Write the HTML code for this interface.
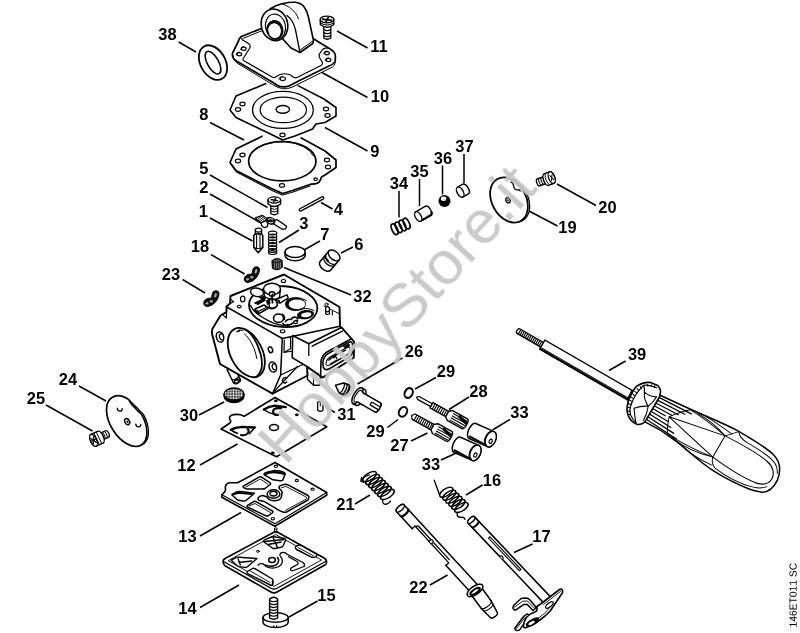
<!DOCTYPE html>
<html><head><meta charset="utf-8"><title>Carburetor parts diagram</title>
<style>
html,body{margin:0;padding:0;background:#fff;}
body{width:800px;height:633px;overflow:hidden;font-family:"Liberation Sans",sans-serif;}
svg{display:block;}
.o{fill:#fff;stroke:#000;stroke-width:1.5;stroke-linejoin:round;stroke-linecap:round;}
.t{fill:none;stroke:#000;stroke-width:1;stroke-linejoin:round;stroke-linecap:round;}
.n{fill:none;stroke:#000;stroke-width:1.5;stroke-linejoin:round;stroke-linecap:round;}
.k{fill:#000;stroke:none;}
.l{stroke:#000;stroke-width:1.5;fill:none;stroke-linecap:butt;}
.lb{font-family:"Liberation Sans",sans-serif;font-weight:bold;font-size:16px;fill:#000;}
</style></head><body>
<svg width="800" height="633" viewBox="0 0 800 633">
<rect width="800" height="633" fill="#fff"/>
<!-- 38 O-ring -->
<g transform="translate(213,62.6) rotate(-29)">
<ellipse class="o" cx="0" cy="0" rx="12.5" ry="18.5" style="stroke-width:1.8"/>
<ellipse class="o" cx="0" cy="0" rx="5.6" ry="12.6" style="stroke-width:1.6"/>
</g>

<!-- 8 gasket -->
<path class="o" d="M236,149 L262.3,136.2 L300.8,137.8 L325,151 L336,160 L336,167.5 L325,175 L321.5,177 Q320,183.5 315,183.8 Q311,184 309,184.8 L292.5,190.5 L282.5,193.5 L272.5,189 L236,170.5 L230,162.5 Z" style="stroke-width:1.7"/>
<path class="t" d="M231,164.5 L236.5,172 L272.5,190.8 L282.5,195 L293,192 L310,186" style="stroke-width:1.1"/>
<ellipse class="o" cx="282.3" cy="161.2" rx="33.7" ry="19.7" style="stroke-width:1.7"/>
<path class="t" d="M252.5,152.5 A32.6,18.8 0 0 1 313.5,156" style="stroke-width:1"/>
<g class="o" style="stroke-width:1.2">
<ellipse cx="242.5" cy="155" rx="2.6" ry="1.8"/><ellipse cx="238" cy="161" rx="2.6" ry="1.8"/>
<ellipse cx="327" cy="160" rx="2.6" ry="1.8"/><ellipse cx="328" cy="167" rx="2.6" ry="1.8"/>
<ellipse cx="282" cy="185.4" rx="2.6" ry="1.8"/><ellipse cx="315.6" cy="179.2" rx="1.7" ry="1.3"/>
</g>
<path d="M262.6,140 L300.5,140 L300.5,132 L262.6,132 Z" fill="#fff"/>

<!-- 9 metering diaphragm -->
<path class="o" d="M236,96 L266,83.6 L298,85.6 L324,99 L336,107.5 L336,116 L325,122.5 L316,124 L312.5,129 L295,136 L282.5,140 L272.5,135 L236,117.5 L230,110 Z" style="stroke-width:1.6"/>
<path d="M266.3,87.5 L297.6,87.5 L297.6,80 L266.3,80 Z" fill="#fff"/>
<ellipse class="o" cx="282.9" cy="109.9" rx="30.4" ry="18.5" style="stroke-width:1.3"/>
<ellipse class="o" cx="283.3" cy="109.9" rx="23.2" ry="12.8" style="stroke-width:1.2"/>
<ellipse class="o" cx="282.8" cy="109.4" rx="6.7" ry="3.9" style="stroke-width:1.4"/>
<g class="o" style="stroke-width:1.2">
<ellipse cx="242.5" cy="104" rx="2.6" ry="1.8"/><ellipse cx="238" cy="109.5" rx="2.6" ry="1.8"/>
<ellipse cx="326" cy="109" rx="2.6" ry="1.8"/><ellipse cx="327.5" cy="115.5" rx="2.6" ry="1.8"/>
<ellipse cx="282.5" cy="135" rx="2.6" ry="1.8"/>
</g>

<!-- 10 cover with elbow -->
<path class="o" d="M240.8,36.8 L262,28.3 L281,21 L315,39.8 L328.5,48 Q335.5,51.5 335.4,56 L335.3,60.5 Q335,63.5 329,66 L300,80.3 L290,85.6 Q283.5,88.3 277.5,85.5 L273,82.5 L236,60.8 Q231.5,57.5 232.6,53 L238.5,41 Q239.3,38 240.8,36.8 Z" style="stroke-width:1.7"/>
<path class="t" d="M233,55.5 Q232.8,60 237,63 L272.5,84.5 Q283,91.5 292,87.2 L330,68.3 Q335.3,66 335.3,62" style="stroke-width:1"/>
<!-- raised inner -->
<path class="n" d="M242.3,39.8 L248.5,43.6 Q251,45.5 249.5,48.5 L243.5,58 Q242.3,59.6 244,60.8 L272.5,77.2 Q274.5,78 276,76.8 Q282,72 290,74.8 L293.5,77.3 Q295.5,78.3 297.5,77.3 L321,65.5 Q323,64.3 322.3,62.3 L319.5,57.5 Q318.5,55 320,53.2 L321.8,50.5 Q323,48.5 325.5,48.2 L328.5,48" style="stroke-width:1.2"/>
<path class="t" d="M242.3,39.8 L240.8,36.8 M243.2,38.3 L262.5,30.5" style="stroke-width:1"/>
<g class="o" style="stroke-width:1.2">
<ellipse cx="243.8" cy="48.8" rx="2.3" ry="1.6"/><ellipse cx="239.3" cy="54.2" rx="2.3" ry="1.6"/>
<ellipse cx="327" cy="53.3" rx="2.3" ry="1.6"/><ellipse cx="328.5" cy="60" rx="2.3" ry="1.6"/>
<ellipse cx="282.8" cy="78.8" rx="2.6" ry="1.8"/>
</g>
<g class="t" style="stroke-width:0.8">
<path d="M240.5,49.5 Q240.5,46.5 243.8,46.3 M236,55 Q236,52 239.3,51.8 M323.6,53.8 Q323.6,50.9 327,50.8 M325.1,60.6 Q325.1,57.6 328.5,57.5 M278.8,79.5 Q279,76.2 282.8,76.2"/>
</g>
<!-- elbow body -->
<path class="o" d="M270,9 C275,5.5 278,4.5 282,3.7 C287,2.6 291,2 295.5,2.3 C300,3 303,5 304.5,7.5 C307,11 307.8,14 308.3,16.5 L313.5,40.5 L312.8,43.5 L300,52.5 L291,48 L282.8,39 Z" style="stroke-width:1.6"/>
<path class="n" d="M300,52.5 L295.5,30 C294,23 291,18.5 287,15.5" style="stroke-width:1.3"/>
<path class="t" d="M282,3.9 C289,6 296,11 298.5,19 M313.5,40.5 L300.5,49.8" style="stroke-width:1"/>
<!-- flange -->
<g transform="translate(274.5,24.8) rotate(-12)">
<ellipse cx="0" cy="0" rx="13.2" ry="15.9" fill="#fff" stroke="#000" stroke-width="1.6"/>
<ellipse cx="0.6" cy="2" rx="10" ry="12.6" fill="#fff" stroke="#000" stroke-width="1.1"/>
<ellipse cx="-0.6" cy="5" rx="8" ry="9.4" fill="#111" stroke="#000" stroke-width="1"/>
<ellipse cx="-1.2" cy="5.8" rx="6.9" ry="8" fill="#fff" stroke="#000" stroke-width="1"/>
<path d="M-7.2,8 A6,7.2 0 0 1 3.5,0.2" fill="none" stroke="#000" stroke-width="1.1"/>
</g>

<!-- 11 screw -->
<g>
<path class="o" d="M323.8,26 L323.8,38 Q327.2,40.5 330.8,38 L330.8,26 Z" style="stroke-width:1.3"/>
<path class="t" d="M323.8,29.5 Q327.2,31.7 330.8,29.5 M323.8,32.5 Q327.2,34.7 330.8,32.5 M323.8,35.5 Q327.2,37.7 330.8,35.5" style="stroke-width:1.1"/>
<path class="o" d="M320.3,19.5 L320.3,24.5 Q327,30 333.8,24.5 L333.8,19.5 Z" style="stroke-width:1.4"/>
<ellipse class="o" cx="327" cy="19.5" rx="6.8" ry="3.4" style="stroke-width:1.4"/>
<path d="M322,19.2 L332,20.3 M328.6,16.8 L325.6,22.6" stroke="#000" stroke-width="1.8" fill="none"/><path d="M320.6,23 Q327,27 333.6,23" stroke="#000" stroke-width="1" fill="none"/>
</g>

<!-- 4 pin -->
<path d="M300.5,209.8 L322.5,198" stroke="#000" stroke-width="3.8" stroke-linecap="round" fill="none"/>
<path d="M300.5,209.8 L322.5,198" stroke="#fff" stroke-width="1.2" stroke-linecap="round" fill="none"/>

<!-- 5 screw -->
<g>
<path class="o" d="M270.8,205 L270.8,213.5 Q274.3,216 277.8,213.5 L277.8,205 Z" style="stroke-width:1.3"/>
<path class="t" d="M270.8,208.5 Q274.3,210.5 277.8,208.5 M270.8,211 Q274.3,213 277.8,211" style="stroke-width:1"/>
<path class="o" d="M268,200 L268,204 Q274.3,209 280.6,204 L280.6,200 Z" style="stroke-width:1.4"/>
<ellipse class="o" cx="274.3" cy="200" rx="6.3" ry="3.1" style="stroke-width:1.4"/>
<path d="M270.5,199.5 L278,200.8 M275.8,197.8 L273.3,202.5" stroke="#000" stroke-width="1.4" fill="none"/>
</g>

<!-- 2 inlet control lever -->
<g>
<!-- arm right -->
<path class="o" d="M273.5,220.3 L277,219.6 L286.6,226.2 L285.6,228.8 L282.3,229.3 L273,223.5 Z" style="stroke-width:1.3"/>
<!-- fork left -->
<path d="M255.3,217.8 L262.5,215.4 L268.2,219.3 L261,223.2 Z" fill="#fff" stroke="#000" stroke-width="1.2" stroke-linejoin="round"/>
<path d="M257,217.2 L262.8,221.6 M258.8,216.6 L264.6,220.8 M260.6,216 L266.4,219.8 M255.8,218.4 L261.4,222.6" stroke="#000" stroke-width="0.9" fill="none"/>
<!-- hook -->
<path class="o" d="M261,223 L266,220.5 L268,222.5 L267.5,226.3 Q265.5,228.3 263.3,227.2 Q261.3,226 261,223 Z" style="stroke-width:1.3"/>
<!-- pivot -->
<ellipse cx="270.6" cy="220.8" rx="4.6" ry="3.3" fill="#111" stroke="#000" stroke-width="1" transform="rotate(20 270.6 220.8)"/>
<path d="M268,219.6 Q270.5,217.8 273,219.4 M268.6,222.4 Q271,223.6 273.4,222" stroke="#fff" stroke-width="0.9" fill="none"/>
</g>

<!-- 1 inlet needle -->
<g>
<path class="o" d="M255.3,229.2 Q258.4,227.2 261.6,229.2 L261.6,234.2 L255.3,234.2 Z" style="stroke-width:1.3"/>
<path class="t" d="M255.3,231.3 Q258.4,233 261.6,231.3" style="stroke-width:1.1"/>
<path class="o" d="M253.8,235.6 L255.3,233.9 L261.6,233.9 L262.8,235.6 L262.8,247.6 L258.3,252.8 L253.8,247.6 Z" style="stroke-width:1.5"/>
<path class="t" d="M256.6,235.2 L256.6,247.8 M260,235.2 L260,247.8 M253.8,247.6 Q258.3,250 262.8,247.6" style="stroke-width:1.1"/>
</g>

<!-- 3 spring -->
<g class="n" style="stroke-width:1.2">
<rect x="268.3" y="231.5" width="8.6" height="22" rx="3" fill="#fff" stroke="none"/>
<ellipse cx="272.6" cy="233" rx="4.2" ry="1.9"/>
<ellipse cx="272.6" cy="235.9" rx="4.2" ry="1.9"/>
<ellipse cx="272.6" cy="238.8" rx="4.2" ry="1.9"/>
<ellipse cx="272.6" cy="241.7" rx="4.2" ry="1.9"/>
<ellipse cx="272.6" cy="244.6" rx="4.2" ry="1.9"/>
<ellipse cx="272.6" cy="247.5" rx="4.2" ry="1.9"/>
<ellipse cx="272.6" cy="250.4" rx="4.2" ry="1.9"/>
<ellipse cx="272.6" cy="252.6" rx="4.2" ry="1.9"/>
</g>

<!-- 7 welch plug -->
<path class="o" d="M285,252 L285,255 A10.1,5.7 0 0 0 305.2,255 L305.2,252 Z" style="stroke-width:1.5"/>
<ellipse class="o" cx="295.1" cy="252" rx="10.1" ry="5.6" style="stroke-width:1.5"/>

<!-- 32 small knurled plug -->
<g>
<path d="M272,261 Q277,257 282,260.5 L282.3,267 Q277,271.5 272.5,268 Z" fill="#222" stroke="#000" stroke-width="1.2"/>
<path d="M274.2,261.5 L274.6,268.5 M276.3,260.8 L276.7,269.3 M278.4,260.6 L278.8,269 M280.3,261 L280.6,268" stroke="#bbb" stroke-width="0.6" fill="none"/>
<ellipse cx="277" cy="260.6" rx="4.4" ry="1.8" fill="#555" stroke="#000" stroke-width="0.8"/>
</g>

<!-- 6 valve jet -->
<g transform="translate(334.1,255.4) rotate(-50)">
<path class="o" d="M-13.6,-6.8 L0,-6.8 L0,6.8 L-13.6,6.8 A4.2,6.8 0 0 1 -13.6,-6.8 Z" style="stroke-width:1.5"/>
<ellipse class="o" cx="0" cy="0" rx="4.2" ry="6.8" style="stroke-width:1.4"/>
<path class="n" d="M-4.6,-6.8 A4.2,6.8 0 0 0 -4.6,6.8 M-7,-6.8 A4.2,6.8 0 0 0 -7,6.8" style="stroke-width:1.2"/>
<path class="t" d="M-5.8,-6.6 A4.2,6.8 0 0 0 -8,-1" style="stroke-width:1.6"/>
</g>

<!-- 18 E-clip -->
<g>
<path d="M244.4,280.3 Q245.3,282.7 248.2,282.5 Q253.3,281.8 256.8,277.2 Q259.8,272.6 259.5,268.8 Q258.6,266.3 255.8,266.8 Q252.8,267.6 252.6,270.6 Q252.9,273.4 250.8,274.3 Q248.8,273.9 246.8,275 Q243.6,277 244.4,280.3 Z" fill="#111" stroke="#000" stroke-width="1" stroke-linejoin="round"/>
<ellipse cx="256" cy="271.3" rx="1.2" ry="2.3" transform="rotate(20 256 271.3)" fill="#aaa"/>
<ellipse cx="251.8" cy="277.2" rx="1.5" ry="1.2" fill="#aaa"/>
<ellipse cx="247.5" cy="279.3" rx="1.6" ry="1.1" transform="rotate(-20 247.5 279.3)" fill="#aaa"/>
</g>
<!-- 23 E-clip -->
<g transform="translate(-40.5,24)">
<path d="M244.4,280.3 Q245.3,282.7 248.2,282.5 Q253.3,281.8 256.8,277.2 Q259.8,272.6 259.5,268.8 Q258.6,266.3 255.8,266.8 Q252.8,267.6 252.6,270.6 Q252.9,273.4 250.8,274.3 Q248.8,273.9 246.8,275 Q243.6,277 244.4,280.3 Z" fill="#111" stroke="#000" stroke-width="1" stroke-linejoin="round"/>
<ellipse cx="256" cy="271.3" rx="1.2" ry="2.3" transform="rotate(20 256 271.3)" fill="#aaa"/>
<ellipse cx="251.8" cy="277.2" rx="1.5" ry="1.2" fill="#aaa"/>
<ellipse cx="247.5" cy="279.3" rx="1.6" ry="1.1" transform="rotate(-20 247.5 279.3)" fill="#aaa"/>
</g>

<!-- carburetor body -->
<g>
<!-- nipple bottom-left -->
<g transform="translate(230.5,368) rotate(64)">
<path class="o" d="M0,-3.8 L14.5,-3.8 A2.2,3.8 0 0 1 14.5,3.8 L0,3.8 Z" style="stroke-width:1.4"/>
<path class="t" d="M10.2,-3.8 A2,3.8 0 0 1 10.2,3.8" style="stroke-width:1.1"/>
<ellipse cx="14.6" cy="0" rx="1.7" ry="3" fill="#222" stroke="#000" stroke-width="1"/>
<ellipse cx="14.9" cy="0.6" rx="0.7" ry="1.4" fill="#fff"/>
</g>
<!-- mount foot under boss -->
<path class="o" d="M307,360 L307.5,379.5 L313.6,385.3 L319.5,385.3 L321,370 Z" style="stroke-width:1.5"/>
<path class="t" d="M313.6,385.3 L313.2,370"/>
<!-- whole silhouette -->
<path class="o" d="M284,274.5 L230.5,296 L230,303.5 L226.5,306.5 L226.5,312 L220.5,315.5 L212.3,329 L211.8,333 L220,364 L272.5,393.7 L297,381 L307.5,375.5 L307,366.5 L322.6,377.5 L353.6,357.6 L354.1,342.1 L351.4,338.8 L341.4,327.5 L340,326.5 L339.5,307 Z" style="stroke-width:1.9"/>
<!-- top face edges -->
<path class="n" d="M226.8,307 L282.3,338.5 L340,326.3" style="stroke-width:1.5"/>
<path class="n" d="M230.3,299 L233.6,301.6 L230.2,303.4" style="stroke-width:1.2"/>
<path class="n" d="M226.5,312 L222.6,314.6 L226.5,318 Z" style="stroke-width:1.2"/>
<!-- front vertical edge and bottom chamfer -->
<path class="n" d="M282.3,338.5 L280.6,375 L272.5,393.7" style="stroke-width:1.5"/>
<path class="t" d="M274.5,391 L297.5,366.5" style="stroke-width:1.1"/>
<path class="n" d="M280.6,375 L307,362.5" style="stroke-width:1.3"/>
<path d="M286.2,377.6 C283.5,377.2 281.6,379.8 282.8,382 C283.6,383.4 285.6,383.2 286.6,382" fill="none" stroke="#000" stroke-width="1.4" stroke-linecap="round"/>
<!-- right face step near front edge -->
<path class="n" d="M292.7,336.4 L292.7,351 M284,352.5 L292.7,351 M284.3,340 L284,352.5 L290.5,348.8 L290.5,337" style="stroke-width:1.2"/>
<!-- boss block -->
<path class="o" d="M292.7,335.5 L308.8,343.8 L341.4,327.5 L351.4,338.8 L354.1,342.1 L353.6,357.6 L322.6,377.5 L307,366.5 L292.2,357.6 Z" style="stroke-width:1.6"/>
<path class="n" d="M312.1,346.2 L342.5,331.2 M308.8,343.8 L308.8,355.4" style="stroke-width:1.3"/>
<path class="n" d="M320.6,376 L321,361 Q322.3,354.8 327,352 L351.4,338.8" style="stroke-width:1.6"/>
<!-- slot in boss front -->
<path d="M322.8,362.5 Q323.5,356.5 328.1,353.6 L348.5,342.3 Q352.3,340.8 352.5,344.5 L352.5,352 Q352.3,354.8 349.5,356.8 L329.5,368.8 Q324.5,371 323.3,367 Z" fill="#fff" stroke="#000" stroke-width="1.6" stroke-linejoin="round"/>
<path d="M326,364.5 Q326,359.5 330,357 L347.5,347.3 Q350,346.5 350,349 L350,350.8 Q349.8,353 347.5,354.5 L331.5,364.3 Q327.5,366.3 326.4,365 Z" fill="#fff" stroke="#000" stroke-width="1.1" stroke-linejoin="round"/>
<path d="M328.5,360.5 Q333,355.5 340,353 L346,349.8 M330,364 Q335,360.5 340.5,358.8 M335,355.5 L337,358.8" stroke="#000" stroke-width="1.4" fill="none"/>
<path d="M343.5,346.2 L349,343.6 L349.6,346 L345,348.6 Z" fill="#000" stroke="#000" stroke-width="0.8"/>
<path d="M331,357.8 L335.5,355.4 L334.5,358.5 Z" fill="#000"/>
<!-- right top strip -->
<path class="t" d="M324,306 L339.8,314"/>
<!-- right post -->
<ellipse class="o" cx="327.5" cy="309.3" rx="2" ry="2.6" style="stroke-width:1.2"/>
<path class="n" d="M325.6,309.5 L325.6,313.5 Q327.5,315.5 329.5,313.5 L329.5,309.5 M332.3,311 L332.3,315" style="stroke-width:1.1"/>
<ellipse class="o" cx="326.5" cy="304.2" rx="1.7" ry="1.2" style="stroke-width:1"/>

<!-- metering chamber -->
<g transform="translate(283.2,306.6) rotate(4)">
<ellipse class="o" cx="0" cy="0" rx="34.2" ry="20.4" style="stroke-width:1.8"/>

</g>
<path class="n" d="M250.6,305.5 C253,311 257.5,314.5 262,317 C266,319.5 270,322 275,323.6 C279,325 284,325.8 289,325.6" style="stroke-width:1.4"/>
<!-- chamber internals -->
<g>
<!-- left blob -->
<ellipse class="o" cx="257" cy="292.3" rx="6.6" ry="4.2" transform="rotate(12 257 292.3)" style="stroke-width:1.4"/>
<!-- welch plug -->
<path class="o" d="M263.6,289 L264.5,296.5 Q272,302 279.5,297.5 L280.4,289 Z" style="stroke-width:1.4"/>
<ellipse class="o" cx="272" cy="289" rx="8.5" ry="5.7" style="stroke-width:1.5"/>
<ellipse class="o" cx="272" cy="294" rx="2.8" ry="2.2" style="stroke-width:1.4"/>
<ellipse cx="272.6" cy="294.4" rx="1.1" ry="0.9" fill="#000"/>
<!-- lever arm upper right -->
<path d="M276,299.5 L287,294.8 L288.2,298 L280,303.2 L276.5,302 Z" fill="#fff" stroke="#000" stroke-width="1.4" stroke-linejoin="round"/>
<path d="M276,299.5 L280,303.2 L280,300.3 Z" fill="#000"/>
<!-- fork upper-left -->
<path d="M254.5,303 L263.5,298.7 L265.5,300.2 L258,304.5 Z M259.5,297.5 L264,296.2 L266,298 L262,299.5 Z" fill="#000" stroke="#000" stroke-width="1" stroke-linejoin="round"/>
<!-- pivot / spring seat -->
<path d="M268.5,300 Q272,297.5 276,300.5 L277.5,305.5 Q274,309.5 269.5,307.5 Z" fill="#fff" stroke="#000" stroke-width="1.5" stroke-linejoin="round"/>
<path d="M271.8,295.5 L272.6,303.5" stroke="#000" stroke-width="1.8"/>
<path d="M266,300.5 L270,299 L270.5,303.5 L267,305 Z" fill="#000"/>
<!-- lower-left block -->
<path d="M255,309 L264,305 L268.6,308 L259,313.6 L256,312 Z" fill="#fff" stroke="#000" stroke-width="1.5" stroke-linejoin="round"/>
<path d="M258,311.5 L266.5,307.5" stroke="#000" stroke-width="1.1"/>
<path d="M255,309 L256,312 L259,313.6 L258.2,310.5 Z" fill="#000"/>
<path d="M268.6,308 Q273,310 276.5,307" fill="none" stroke="#000" stroke-width="1.3"/>
<!-- big hole -->
<ellipse cx="295.5" cy="304.3" rx="10.5" ry="6.8" fill="#000"/>
<ellipse cx="297" cy="304.3" rx="8.2" ry="4.9" fill="#fff"/>
<path class="t" d="M286.5,300 Q296,294.5 306.5,300.5" style="stroke-width:0.9"/>
<!-- nozzle circle -->
<ellipse class="o" cx="278.5" cy="318.2" rx="5" ry="4.2" style="stroke-width:1.6"/>
<path class="t" d="M282.5,314 Q285,316 284.6,319.5" style="stroke-width:1.2"/>
<!-- right-lower dark ring -->
<ellipse cx="305.5" cy="314.6" rx="8.6" ry="4.6" fill="#000" transform="rotate(-8 305.5 314.6)"/>
<ellipse cx="306.2" cy="314.8" rx="5.2" ry="2.4" fill="#fff" transform="rotate(-8 306.2 314.8)"/>
<path class="t" d="M300,309.5 Q307,307 314,310.5" style="stroke-width:1"/>
<!-- small shapes -->
<path d="M285.5,321.5 Q287.5,318.5 291.5,319.5 M287,324.5 Q290.5,325.5 293.5,322.5 Q295,320 297.5,320.5 M292,318 Q295,316 298,318.5 M283,323.5 Q284,325.5 286.5,325.5" fill="none" stroke="#000" stroke-width="1.7" stroke-linecap="round"/>
<ellipse cx="295.5" cy="322.3" rx="2" ry="1.4" fill="#fff" stroke="#000" stroke-width="1.2"/>
</g>
<!-- holes on top face -->
<ellipse class="o" cx="283.5" cy="281" rx="2.2" ry="1.5" style="stroke-width:1.1"/>
<ellipse class="o" cx="242.7" cy="299" rx="2.2" ry="2.9" style="stroke-width:1.2"/>
<ellipse class="o" cx="239.3" cy="306.6" rx="1.9" ry="1.3" style="stroke-width:1.1"/>
<ellipse class="o" cx="282.6" cy="331.3" rx="2.3" ry="1.5" style="stroke-width:1.1"/>

<!-- bore -->
<g transform="translate(246.3,352.6) rotate(63)">
<ellipse class="o" cx="0" cy="0" rx="26.4" ry="15.9" style="stroke-width:1.8"/>
</g>
<path class="n" d="M245,329.3 C251,332.5 257,342 260.6,354 C263,363 262,371.5 257,376.3" style="stroke-width:1.7"/>
<path class="t" d="M237,331.8 Q240,329.2 243,330.2 M244.5,334 C250,338.5 255,348 256.8,358.5"/>
<path d="M236.5,331.5 L240,329.6 L239.2,331.6 Z" fill="#000" stroke="#000" stroke-width="0.8"/>
<!-- face holes -->
<ellipse class="o" cx="220" cy="337" rx="3.6" ry="5.2" transform="rotate(-15 220 337)" style="stroke-width:1.5"/>
<path class="n" d="M221.8,334 a2,3 -15 1 0 0.5,5.6" style="stroke-width:1.3"/>
<ellipse class="o" cx="270.5" cy="349.7" rx="2" ry="3" transform="rotate(-20 270.5 349.7)" style="stroke-width:1.5"/>
<ellipse class="o" cx="272.8" cy="367" rx="3.6" ry="5.2" transform="rotate(-15 272.8 367)" style="stroke-width:1.5"/>
<path class="n" d="M274.6,364 a2,3 -15 1 0 0.5,5.6" style="stroke-width:1.3"/>
</g>

<!-- 24 throttle disc -->
<g transform="translate(126.7,421.2) rotate(-31.8)">
<path class="o" d="M13.5,-15.5 C14.5,-11 15,-9 15.8,-6 C16.5,-2 17.2,0 17.8,3 A16.3,27.9 0 0 1 2.5,28.3 L0,27.9 L10,0 Z" style="stroke-width:1.3"/>
<path class="o" d="M0,-27.9 A16.3,27.9 0 0 1 13.2,-17.2 C11.8,-13 13.8,-10.5 14.3,-6.5 C14.3,-2.5 15.2,-1 16.3,1.7 A16.3,27.9 0 0 1 0,27.9 A16.3,27.9 0 0 1 0,-27.9 Z" style="stroke-width:1.7"/>
<ellipse class="o" cx="0.2" cy="0.6" rx="2.3" ry="3.2" style="stroke-width:1.4"/>
<ellipse cx="0.4" cy="0.9" rx="0.9" ry="1.4" fill="#000"/>
<path class="n" d="M-1.2,-16 a2.2,2.6 0 0 0 4,3" style="stroke-width:1.3"/>
<path class="n" d="M6.2,7.2 a2.2,2.6 0 0 0 4,3" style="stroke-width:1.3"/>
</g>

<!-- 25 screw -->
<g transform="translate(98.5,438) rotate(-25)">
<path class="o" d="M2,-3.6 L9.5,-3.6 A1.8,3.6 0 0 1 9.5,3.6 L2,3.6 Z" style="stroke-width:1.3"/>
<path class="t" d="M5,-3.6 A1.5,3.6 0 0 1 5,3.6 M7.3,-3.6 A1.5,3.6 0 0 1 7.3,3.6"/>
<path d="M-5.5,-6.5 L2,-6.5 A3,6.5 0 0 1 2,6.5 L-5.5,6.5 A3,6.5 0 0 1 -5.5,-6.5 Z" fill="#fff" stroke="#000" stroke-width="1.4"/>
<ellipse cx="-5.5" cy="0" rx="3" ry="6.5" fill="#fff" stroke="#000" stroke-width="1.3"/>
<path d="M-7.3,-3.5 L-3.6,3.5 M-3.6,-3.5 L-7.3,3.5 M-8,0 L-3,0" stroke="#000" stroke-width="1.2"/>
<path d="M-2,-6.5 L-2,6.5 M0.5,-6.3 L0.5,6.3" stroke="#000" stroke-width="0.9"/>
</g>

<!-- 30 screen -->
<g>
<defs><pattern id="mesh" width="2.7" height="2.7" patternUnits="userSpaceOnUse"><rect width="2.7" height="2.7" fill="#222"/><circle cx="1.35" cy="1.35" r="1.05" fill="#fff"/></pattern></defs>
<path d="M224,394 L224,396.6 A10,6 0 0 0 244,396.6 L244,394 Z" fill="#000" stroke="#000" stroke-width="1.2"/>
<ellipse cx="234" cy="394" rx="10" ry="6" fill="url(#mesh)" stroke="#000" stroke-width="1.4"/>
</g>

<!-- 12 gasket -->
<g>
<path class="o" d="M275,397.5 L326.8,426.8 L276.5,456.8 L221,429 L230,423 Q231.5,421.5 229.8,419.5 Q228.5,416.5 232,415 Q236,413.8 240.5,414.8 L244.3,416.2 Z" style="stroke-width:1.6"/>
<g fill="#000"><ellipse cx="275.8" cy="400.8" rx="1.9" ry="1.4"/><ellipse cx="296.8" cy="414.8" rx="1.9" ry="1.4"/><ellipse cx="272.8" cy="453" rx="1.9" ry="1.4"/></g>
<ellipse class="o" cx="274" cy="427.5" rx="4.5" ry="3" style="stroke-width:1.6"/>
<!-- upper flap -->
<path d="M263.8,409.5 Q269,406.3 275,405.7 L285.8,407.2" fill="none" stroke="#000" stroke-width="2.3" stroke-linecap="round"/>
<path class="n" d="M263.8,409.5 Q269,413.6 275.5,414.8" style="stroke-width:1.5"/>
<path d="M281.2,408.2 Q273.6,407.3 273,411.4 Q273.4,415.4 278.2,414.9" fill="none" stroke="#000" stroke-width="2.2" stroke-linecap="round"/>
<!-- lower flap -->
<path d="M230.8,429.8 Q235,427.3 242,426.8 L254.8,427.5" fill="none" stroke="#000" stroke-width="2.3" stroke-linecap="round"/>
<path class="n" d="M254.8,427.5 L249.3,433.8 M230.8,429.8 Q233.5,432 237.5,433.2" style="stroke-width:1.5"/>
<path d="M247.3,428.3 Q250.5,431.8 246,434.6 Q243.5,435.8 241,435" fill="none" stroke="#000" stroke-width="2.1" stroke-linecap="round"/>
</g>

<!-- 13 diaphragm plate -->
<g>
<path class="o" d="M275,462.5 L326.7,492.5 L326.7,495.2 L275,526.3 L221.8,497.3 L221.8,494.7 Q226,491.5 225.5,489 Q224.5,484 229.5,482.8 L237.5,482.8 L240.5,481.2 Z" style="stroke-width:1.6"/>
<path class="n" d="M221.8,494.7 L275,523.8 L326.7,492.5" style="stroke-width:1.2"/>
<!-- cutouts -->
<g fill="#fff" stroke="#000" stroke-width="1.5" stroke-linejoin="round">
<path d="M264,474.7 Q264.5,472.5 268,472 L275,470.6 Q282,470.8 285.3,473.5 L282.8,480 Q282,481 280,480.8 L273,479.8 Z"/>
<path d="M243,486.3 L259,477.2 Q260.5,476.3 262,477.3 L270.3,483 Q271,484 269.5,485 L265,488.5 Q264,489 262,489 L247.5,489 Q243,488.5 243,486.3 Z"/>
<path d="M231.8,494.7 L236.5,492 Q238,491.5 240,491.5 L254.5,493.2 L246,500.5 Q245,501.2 243,501 L237.5,500 Z"/>
<path d="M247.5,505.3 L253.8,501.6 Q255,501 256.5,501.8 L272.5,511 Q273.5,512 272.2,513 L268,515.8 Q266.8,516.3 265.5,515.6 L248,507.3 Q246.5,506.3 247.5,505.3 Z"/>
<path d="M279,487 Q279.5,485.5 282,485 L285,484.2 Q286.5,484 288,484.8 L308,495.5 Q309.5,496.8 308.5,498.5 L308,500 L286.5,512 Q285,512.6 283.5,512.2 L279.5,510.6 L264.5,501.6 L259.5,500.5 Q257.5,499.5 258.3,497.6 Q259.5,495.8 263,495.5 L267,497 Q268.5,500.5 274,500.8 Q280,500.5 281.2,497.5 L282.2,492.5 Q282,490.5 279.5,489.2 Z"/>
</g>
<path d="M264.2,474.5 Q270,471.5 276,472.2 Q281,472.5 284.8,474" fill="none" stroke="#000" stroke-width="2.4"/>
<path d="M232.5,494.6 L238.5,492.8 L252,494" fill="none" stroke="#000" stroke-width="1.8"/>
<g class="t" style="stroke-width:0.9">
<path d="M245.5,487.2 L260.3,479 L268,484.3"/>
<path d="M249.5,505.8 L255,503.5 L270.5,512.5"/>
<path d="M281,488 L285.8,486.3 L306.5,497.2 L306.3,499 L285.5,510.3"/>
</g>
<ellipse class="o" cx="273.5" cy="494" rx="6.4" ry="4.3" style="stroke-width:1.4"/>
<ellipse class="o" cx="273.5" cy="493.6" rx="3.6" ry="2.4" style="stroke-width:1.4"/>
<g class="o" style="stroke-width:1.1"><ellipse cx="275.8" cy="466.3" rx="1.7" ry="1.2"/><ellipse cx="296.8" cy="480.5" rx="1.6" ry="1.1"/><ellipse cx="312.5" cy="489.2" rx="1.6" ry="1.1"/><ellipse cx="272.8" cy="518.7" rx="1.7" ry="1.2"/></g>
</g>

<!-- 14 end cover -->
<g>
<path class="o" d="M274.6,528.5 L274.6,532 M276.8,528.5 L276.8,532" style="stroke-width:1"/>
<ellipse cx="275.7" cy="528.5" rx="1.2" ry="0.8" fill="#fff" stroke="#000" stroke-width="0.9"/>
<path class="o" d="M272.5,533 Q275.7,530.8 279,533 L324.5,558.3 Q327.5,560.2 326.2,563.5 L325.7,564.5 L277.5,591.8 Q274,594 270.5,591.8 L224.5,565.5 L223,562 Q222.5,560 225.5,558.3 Z" style="stroke-width:1.6"/>
<path class="n" d="M223.5,561.5 L271,588.3 Q274,590 277,588.3 L326,561.2" style="stroke-width:1.3"/>
<path class="t" d="M228.5,560.5 L275.7,534.5 L321.5,560 L274.3,586.2 Z" style="stroke-width:0.9"/>
<g fill="#fff" stroke="#000" stroke-width="1.4" stroke-linejoin="round">
<path d="M263.3,541.5 Q263.5,540 266,539.2 L271.5,537 Q273.5,536.5 276,537 L284.5,538.5 Q286,539 285.5,540.5 L283,546 Q282.5,547 281,547.3 L275,548.5 Q273.5,548.8 272,547.8 Z"/>
<path d="M231.2,560.2 L236,557.7 Q237.5,557.2 239.5,557.3 L257,558.5 L247.5,566.8 Q246.5,567.6 244.5,567.4 L239,566.6 Q237.5,566.2 236.2,565 Z"/>
<path d="M247.3,571.5 L252.5,568.5 Q253.8,568 255,568.6 L272.3,579 Q273.3,579.8 273,581 L272.6,584.5 Q272,585.8 270.3,585 L248,573.8 Q246.2,572.6 247.3,571.5 Z"/>
<path d="M295.5,547 Q296.5,545.2 299,545 Q300.5,545.2 302,546 L316,553.8 Q317.5,555 316.2,556.2 Q314.5,557.8 312,557.3 L296.5,549.5 Q295,548.3 295.5,547 Z"/>
</g>
<path d="M264,541.5 L284.5,539.5 M273,537.5 L277.5,547.5 M268,544.5 L281.5,542" stroke="#000" stroke-width="1.5" fill="none"/>
<path d="M238,558.5 L240.5,565.5 M238.5,562.5 L252,561" stroke="#000" stroke-width="1.3" fill="none"/>
<path class="t" d="M250,570.8 L270,582.5 M298,547.5 L313.5,555.8" style="stroke-width:0.9"/>
<!-- center -->
<ellipse class="o" cx="272" cy="560" rx="3.4" ry="2.5" style="stroke-width:1.4"/>
<path class="n" d="M277.5,557.5 Q280.5,561.5 276,565 Q271,567.5 265.5,565" style="stroke-width:1.5"/>
<path class="n" d="M258,565.3 Q259,563 263,563.8 L266,566.5 Q272,569.8 279,566.5 Q283.5,563.5 282,559 L280,555.5 Q279.5,553 282.5,552.5 Q285,552.2 287.5,554.5 L303,562.5 Q305.5,564.5 304,566.5 L293.5,570.5 Q291,571.5 290.5,569.5 Q290.3,568 293,566.8 L297.5,564.5 Q299,563 297,561.5 L288.5,556.8" style="stroke-width:1.3"/>
<ellipse class="o" cx="257.9" cy="551.3" rx="1.4" ry="1" style="stroke-width:1"/>
<path class="t" d="M272.6,581.5 L272.6,584.5" style="stroke-width:1.6"/>
</g>

<!-- 15 screw -->
<g>
<path class="o" d="M263,617.5 L263,622 A12.6,5.4 0 0 0 288.2,622 L288.2,617.5 Z" style="stroke-width:1.5"/>
<ellipse class="o" cx="275.6" cy="617.5" rx="12.6" ry="4.8" style="stroke-width:1.5"/>
<path class="o" d="M269.6,599 Q273.6,595.3 277.6,599 L277.6,618 Q273.6,620.5 269.6,618 Z" style="stroke-width:1.4"/>
<path class="t" d="M269.6,600.5 Q273.6,603 277.6,600.5 M269.6,603.4 Q273.6,605.9 277.6,603.4 M269.6,606.3 Q273.6,608.8 277.6,606.3 M269.6,609.2 Q273.6,611.7 277.6,609.2 M269.6,612.1 Q273.6,614.6 277.6,612.1 M269.6,615 Q273.6,617.5 277.6,615" style="stroke-width:1.2"/>
<path d="M273.8,625.2 L273.8,627.6 M276.6,625.2 L276.6,627.6" stroke="#000" stroke-width="1"/>
</g>

<!-- 34 spring -->
<g transform="translate(400.6,226.4) rotate(-25)" class="n" style="stroke-width:1.7">
<ellipse cx="-6.6" cy="0" rx="2.7" ry="5.7" fill="#fff"/>
<ellipse cx="-2.2" cy="0" rx="2.7" ry="5.7" fill="none"/>
<ellipse cx="2.2" cy="0" rx="2.7" ry="5.7" fill="none"/>
<ellipse cx="6.6" cy="0" rx="2.7" ry="5.7" fill="none"/>
</g>
<!-- 35 cylinder -->
<g transform="translate(423,213.8) rotate(-30)">
<path class="o" d="M-5.5,-5.3 L6,-5.3 A2.6,5.3 0 0 1 6,5.3 L-5.5,5.3 Z" style="stroke-width:1.4"/>
<path d="M-4,5 L6.5,5 A2.6,5.3 0 0 0 8.4,2" fill="none" stroke="#000" stroke-width="2.2"/>
<ellipse class="o" cx="-5.5" cy="0" rx="2.9" ry="5.3" style="stroke-width:1.4"/>
</g>
<!-- 36 ball -->
<circle cx="444.5" cy="201" r="6" fill="#000"/>
<ellipse cx="443.6" cy="198.8" rx="2.7" ry="2.2" fill="#fff"/>
<ellipse cx="444.4" cy="199.6" rx="1.5" ry="1.2" fill="#ccc"/>
<!-- 37 ring -->
<g transform="translate(462.8,190.6) rotate(-30)">
<path class="o" d="M-3,-5.6 L3.2,-5.6 A2.8,5.6 0 0 1 3.2,5.6 L-3,5.6 Z" style="stroke-width:1.4"/>
<ellipse class="o" cx="-3" cy="0" rx="3" ry="5.6" style="stroke-width:1.4"/>
</g>

<!-- 19 disc -->
<g transform="translate(509,200) rotate(61)">
<ellipse class="o" cx="1" cy="-1.8" rx="23.6" ry="16.8" style="stroke-width:1.2"/>
<ellipse class="o" cx="0" cy="0" rx="24" ry="17" style="stroke-width:1.8"/>
<ellipse class="o" cx="-0.2" cy="1" rx="2.8" ry="2.1" style="stroke-width:1.4"/>
<ellipse cx="-0.2" cy="1" rx="1.1" ry="0.8" fill="#000"/>
</g>
<path d="M510.5,181.5 Q513.5,183 513.8,186.5 Q514.5,190.5 518,189.8 Q519.5,189.5 520.5,191.5" fill="none" stroke="#000" stroke-width="1.3" stroke-linejoin="round"/>

<!-- 20 screw -->
<g transform="translate(546.5,179.5) rotate(-20)">
<path class="o" d="M-8.5,-3.7 L0,-3.7 L0,3.7 L-8.5,3.7 A1.8,3.7 0 0 1 -8.5,-3.7 Z" style="stroke-width:1.3"/>
<path class="t" d="M-6.2,-3.7 A1.6,3.7 0 0 0 -6.2,3.7 M-3.8,-3.7 A1.6,3.7 0 0 0 -3.8,3.7 M-1.4,-3.7 A1.6,3.7 0 0 0 -1.4,3.7"/>
<path d="M0,-6.2 L5.5,-6.2 A3,6.2 0 0 1 5.5,6.2 L0,6.2 A3,6.2 0 0 1 0,-6.2 Z" fill="#fff" stroke="#000" stroke-width="1.4"/>
<ellipse cx="5.5" cy="0" rx="3" ry="6.2" fill="#fff" stroke="#000" stroke-width="1.3"/>
<path d="M2,-6.2 A2.6,6.2 0 0 0 2,6.2" fill="none" stroke="#000" stroke-width="0.9"/>
<path d="M4.2,-3 L7,3 M7,-3 L4.2,3" stroke="#000" stroke-width="1"/>
</g>

<!-- 26 cone + flanged valve -->
<g transform="translate(335.6,385) rotate(25)">
<path d="M0,0.3 L6.5,-5.2 L12,-5.8 A2.4,5.9 0 0 1 12,6 L6.5,5.6 Z" fill="#fff" stroke="#000" stroke-width="1.5" stroke-linejoin="round"/>
<path class="n" d="M6.8,-5.3 A2.2,5.5 0 0 1 6.8,5.5 M9,-5.6 A2.3,5.7 0 0 1 9,5.8 M11.2,-5.8 A2.4,5.9 0 0 1 11.2,6" style="stroke-width:1.3"/>
</g>
<g transform="translate(360,397.2) rotate(30)">
<path class="o" d="M2,-5.3 L20.5,-5.3 A2.2,5.3 0 0 1 20.5,5.3 L2,5.3 Z" style="stroke-width:1.5"/>
<path d="M12.5,-1.7 L22.5,-1.7 M12.5,1.7 L22.5,1.7 M12.5,-1.7 L12.5,1.7" stroke="#000" stroke-width="1.3" fill="none"/>
<path d="M20.5,-5.3 A2.2,5.3 0 0 1 22.4,-1.7 M22.4,1.7 A2.2,5.3 0 0 1 20.5,5.3" stroke="#000" stroke-width="1.4" fill="none"/>
<path class="o" d="M-3,-9 L0.5,-9 A3.8,9 0 0 1 0.5,9 L-3,9 Z" style="stroke-width:1.5"/>
<ellipse class="o" cx="-3" cy="0" rx="3.8" ry="9" style="stroke-width:1.5"/>
<ellipse class="o" cx="-2.2" cy="0.2" rx="2.6" ry="6.6" style="stroke-width:1.2"/>
<path d="M-1,-5.3 L5.4,-5.3 L5.4,5.3 L-1,5.3 Z" fill="#fff"/>
<path class="n" d="M0.3,-5.3 L6,-5.3 M0.3,5.3 L6,5.3" style="stroke-width:1.5"/>
</g>

<!-- 29 o-rings -->
<ellipse cx="408.7" cy="393" rx="3.9" ry="5.1" transform="rotate(28 408.7 393)" fill="#fff" stroke="#000" stroke-width="2"/>
<ellipse cx="403" cy="411.8" rx="3.9" ry="5.1" transform="rotate(28 403 411.8)" fill="#fff" stroke="#000" stroke-width="2"/>

<!-- 28 adjusting screw -->
<g transform="translate(416.6,397) rotate(29)">
<path class="o" d="M0,0 L2,-1.6 L17,-1.6 L17,1.6 L2,1.6 Z" style="stroke-width:1.2"/>
<path class="o" d="M17,-3.1 L35,-3.1 L35,3.1 L17,3.1 Z" style="stroke-width:1.3"/>
<path d="M19.5,-3.1 L19.5,3.1 M21.7,-3.1 L21.7,3.1 M23.9,-3.1 L23.9,3.1 M26.1,-3.1 L26.1,3.1 M28.3,-3.1 L28.3,3.1 M30.5,-3.1 L30.5,3.1 M32.7,-3.1 L32.7,3.1" stroke="#000" stroke-width="1.1"/>
<path class="o" d="M35,-3.1 L38,-5.6 L55,-5.6 A2.2,5.6 0 0 1 55,5.6 L38,5.6 L35,3.1 Z" style="stroke-width:1.4"/>
<path d="M40,-3.2 L56.5,-3.2 M40,-0.8 L57,-0.8 M40,1.6 L56.8,1.6 M40,4 L56,4" stroke="#000" stroke-width="1.1"/>
<path d="M46,-5.6 L57,-2.4 L57,0.6 L46,-2.4 Z" fill="#000"/>
</g>
<!-- 27 adjusting screw -->
<g transform="translate(411.5,415.5) rotate(29)">
<path class="o" d="M0,0 L2.5,-3.1 L24,-3.1 L24,3.1 L2.5,3.1 Z" style="stroke-width:1.3"/>
<path d="M4.5,-3.1 L4.5,3.1 M6.7,-3.1 L6.7,3.1 M8.9,-3.1 L8.9,3.1 M11.1,-3.1 L11.1,3.1 M13.3,-3.1 L13.3,3.1 M15.5,-3.1 L15.5,3.1 M17.7,-3.1 L17.7,3.1 M19.9,-3.1 L19.9,3.1 M22.1,-3.1 L22.1,3.1" stroke="#000" stroke-width="1.1"/>
<path class="o" d="M24,-3.1 L27,-5.6 L43,-5.6 A2.2,5.6 0 0 1 43,5.6 L27,5.6 L24,3.1 Z" style="stroke-width:1.4"/>
<path d="M29,-3.2 L44.5,-3.2 M29,-0.8 L45,-0.8 M29,1.6 L44.8,1.6 M29,4 L44,4" stroke="#000" stroke-width="1.1"/>
<path d="M34,-5.6 L45,-2.4 L45,0.6 L34,-2.4 Z" fill="#000"/>
</g>

<!-- 33 caps -->
<g transform="translate(482.5,435.5) rotate(24)">
<path class="o" d="M-11,-8.2 L9,-8.2 A5,8.2 0 0 1 9,8.2 L-11,8.2 A4,8.2 0 0 1 -11,-8.2 Z" style="stroke-width:1.5"/>
<ellipse class="o" cx="9" cy="0" rx="5" ry="8.2" style="stroke-width:1.4"/>
<path class="t" d="M7,-7.5 A4.5,7.6 0 0 0 7,7.5" style="stroke-width:0.9"/>
<ellipse cx="9.8" cy="2" rx="1.5" ry="2.2" fill="#fff" stroke="#000" stroke-width="1.1"/>
<path d="M-12,6 L8,7.6" stroke="#000" stroke-width="2" fill="none"/>
</g>
<g transform="translate(-15.3,13.7)"><g transform="translate(482.5,435.5) rotate(24)">
<path class="o" d="M-11,-8.2 L9,-8.2 A5,8.2 0 0 1 9,8.2 L-11,8.2 A4,8.2 0 0 1 -11,-8.2 Z" style="stroke-width:1.5"/>
<ellipse class="o" cx="9" cy="0" rx="5" ry="8.2" style="stroke-width:1.4"/>
<path class="t" d="M7,-7.5 A4.5,7.6 0 0 0 7,7.5" style="stroke-width:0.9"/>
<ellipse cx="9.8" cy="2" rx="1.5" ry="2.2" fill="#fff" stroke="#000" stroke-width="1.1"/>
<path d="M-12,6 L8,7.6" stroke="#000" stroke-width="2" fill="none"/>
</g></g>

<!-- 31 pin -->
<path class="o" d="M317.6,402.5 Q320.3,400.3 323,402.5 L323,410 Q320.3,412.8 317.6,410 Z" style="stroke-width:1.3"/>
<path class="t" d="M320.3,402 L320.3,406"/>

<!-- 21 spring -->
<g transform="translate(378.5,485.5) rotate(45)">
<path class="n" d="M-14,-1 Q-17,3 -15.5,9.5 M-15.5,9.5 L-17.6,6.5 M-15.5,9.5 L-12.6,8.3" style="stroke-width:1.2"/>
<g class="n" style="stroke-width:1.55" transform="skewX(-10)">
<ellipse cx="-12.6" cy="0" rx="3.6" ry="7.7"/>
<ellipse cx="-8.4" cy="0" rx="3.6" ry="7.7"/>
<ellipse cx="-4.2" cy="0" rx="3.6" ry="7.7"/>
<ellipse cx="0.0" cy="0" rx="3.6" ry="7.7"/>
<ellipse cx="4.2" cy="0" rx="3.6" ry="7.7"/>
<ellipse cx="8.4" cy="0" rx="3.6" ry="7.7"/>
<ellipse cx="12.6" cy="0" rx="3.6" ry="7.7"/>
</g>
<path class="n" d="M13.5,7.5 Q16,11 19,7.5 Q20.5,4.5 19.5,2.5" style="stroke-width:1.3"/>
</g>

<!-- 16 spring -->
<g transform="translate(454,500) rotate(45)">
<path class="n" d="M-28,0 L-14,6.5" style="stroke-width:1.3"/>
<g class="n" style="stroke-width:1.55" transform="skewX(-10)">
<ellipse cx="-11.0" cy="0" rx="3.6" ry="7.4"/>
<ellipse cx="-6.7" cy="0" rx="3.6" ry="7.4"/>
<ellipse cx="-2.4" cy="0" rx="3.6" ry="7.4"/>
<ellipse cx="1.9" cy="0" rx="3.6" ry="7.4"/>
<ellipse cx="6.2" cy="0" rx="3.6" ry="7.4"/>
<ellipse cx="10.5" cy="0" rx="3.6" ry="7.4"/>
</g>
<path class="n" d="M11.5,7 Q14,10.5 17,7.5 Q19,4.5 21.5,6" style="stroke-width:1.3"/>
</g>

<!-- 22 throttle shaft -->
<g transform="translate(400.3,508.3) rotate(47.4)">
<!-- tip -->
<g transform="translate(112,0) rotate(6)"><path class="o" d="M0,-6.2 L17,-6 L30,-4 A2,4.3 0 0 1 30,4.6 L17,6.4 L0,6.4 Z" style="stroke-width:1.5"/>
<path class="t" d="M17,-6 A2.4,6.2 0 0 1 17,6.4 M20,-5.6 A2.4,5.8 0 0 1 20,6" style="stroke-width:1.1"/></g>
<!-- main shaft -->
<path class="o" d="M0,-5.05 L110,-5.05 L110,5.05 L0,5.05 A2.3,5.05 0 0 1 0,-5.05 Z" style="stroke-width:1.5"/>
<ellipse class="o" cx="0" cy="0" rx="2.3" ry="5.05" style="stroke-width:1.4"/>
<path d="M5.6,-5.05 A2.3,5.05 0 0 1 5.6,5.05" fill="none" stroke="#000" stroke-width="2.2"/>
<!-- flat -->
<path d="M23.8,6.5 L23.8,1.2 L72.2,1.2 L72.2,6.5 Z" fill="#fff"/>
<path class="n" d="M23,5.05 L23,1.2 L73,1.2 L73,5.05 M25.5,-1.3 L71,-1.3 M23,1.2 L25.5,-1.3" style="stroke-width:1.3"/>
<circle class="o" cx="45.5" cy="-0.2" r="1.9" style="stroke-width:1.2"/>
<!-- lever ring -->
<g transform="translate(111,0.6)">
<ellipse cx="0" cy="0" rx="4.2" ry="9.2" fill="#fff" stroke="#000" stroke-width="1.5" transform="rotate(8)"/>
<ellipse cx="0.8" cy="0.5" rx="2" ry="5.6" fill="#fff" stroke="#000" stroke-width="2" transform="rotate(8)"/>
</g>
</g>

<!-- 17 choke shaft -->
<g transform="translate(471.3,520) rotate(46.5)">
<path class="o" d="M0,-4.55 L112,-4.55 L112,4.55 L0,4.55 A2.1,4.55 0 0 1 0,-4.55 Z" style="stroke-width:1.5"/>
<ellipse class="o" cx="0" cy="0" rx="2.1" ry="4.55" style="stroke-width:1.4"/>
<path d="M5.2,-4.55 A2.1,4.55 0 0 1 5.2,4.55" fill="none" stroke="#000" stroke-width="2"/>
<path class="o" d="M25,-2 L70,-2 L70,0 L25,0 Z" style="stroke-width:1.1"/>
<path d="M46,4.55 A2,2 0 0 1 50,4.55" fill="#fff" stroke="#000" stroke-width="1.2"/>
</g>
<!-- 17 lever plate -->
<g>
<!-- hook -->
<path class="o" d="M536.3,607.5 L530,600 Q528,598 526,598 L522.5,598.3 Q521,598.5 520,599.5 L514,605 Q512.5,607 513.2,608.8 Q514.5,610.5 516,609.8 L523.5,604.6 L527.3,604.4 L533,610.5 Z" style="stroke-width:1.5"/>
<path class="t" d="M514.5,607 L522.8,601.2 L527.5,601 L534,607.8" style="stroke-width:0.9"/>
<!-- lower prong -->
<path class="o" d="M527,614 L523.8,616.3 L515,628 Q514.5,630 516.9,630.6 Q519,630.6 520,629.4 L527.5,618.5 L532,616 Z" style="stroke-width:1.5"/>
<path class="t" d="M516.5,628.5 L525,617.5" style="stroke-width:0.9"/>
<!-- plate -->
<path class="o" d="M541.3,603.5 L559.5,589.5 Q561.5,588.3 562.3,590 Q563.2,591.5 562.3,593 L550,611.3 Q545,616.5 540,620 Q532,625 526.3,627.5 Q523.5,628.3 523.5,626 Q524,621 526.3,617.5 Q530,613.5 536.3,611.3 Q538,608 536.3,607 Z" style="stroke-width:1.6"/>
<path class="t" d="M543.5,604.5 L561,591 M526.5,624.8 Q533,622 540,617 Q545,613.5 549,608.5" style="stroke-width:0.9"/>
<ellipse cx="549.4" cy="605" rx="4.6" ry="1.9" transform="rotate(-38 549.4 605)" fill="#fff" stroke="#000" stroke-width="1.2"/>
<ellipse cx="532.6" cy="622.3" rx="7" ry="2.7" transform="rotate(-30 532.6 622.3)" fill="#000" stroke="#000" stroke-width="1"/>
<ellipse cx="531.6" cy="623" rx="3.6" ry="1.3" transform="rotate(-30 531.6 623)" fill="#fff"/>
</g>

<!-- 39 screwdriver -->
<g transform="translate(643.5,403.2) rotate(30)">
<!-- threaded tip -->
<path class="o" d="M-144,-2.6 L-116,-2.6 L-116,2.8 L-144,2.8 A2,2.7 0 0 1 -144,-2.6 Z" style="stroke-width:1.3"/>
<path d="M-143,-2.6 L-143,2.8 M-141,-2.6 L-141,2.8 M-139,-2.6 L-139,2.8 M-137,-2.6 L-137,2.8 M-135,-2.6 L-135,2.8 M-133,-2.6 L-133,2.8 M-131,-2.6 L-131,2.8 M-129,-2.6 L-129,2.8 M-127,-2.6 L-127,2.8 M-125,-2.6 L-125,2.8 M-123,-2.6 L-123,2.8 M-121,-2.6 L-121,2.8 M-119,-2.6 L-119,2.8" stroke="#000" stroke-width="1.1"/>
<!-- sleeve -->
<path class="o" d="M-117,-5.4 L-4,-5.4 L-4,4.9 L-117,4.9 Z" style="stroke-width:1.4"/>
<path d="M-117,4.6 L-4,4.6" stroke="#000" stroke-width="2.2"/>
<path d="M-116,3 L-4,3" stroke="#000" stroke-width="0.9"/>
<!-- handle body -->
<path class="o" d="M8,-15 L33,-17.2 C60,-19.5 80,-23.2 96,-23.2 C112,-23.2 130,-22.5 138,-20.5 C148,-18 153,-10 154.5,0 C155,10 152,16 146,18.2 C141,20.2 138,21 135,21.4 C120,23.8 108,24.2 95,23.7 C80,23 65,19.5 53,17.4 L30,14.9 L8,15.4 Z" style="stroke-width:1.5"/>
<!-- neck ribs -->
<path d="M10.5,-12.8 L47.3,-14.7 M10.5,-9.6 L41.8,-11.0 M10.5,-6.4 L36.4,-7.4 M10.5,-3.2 L30.9,-3.7 M10.5,0.0 L25.5,0.0 M10.5,3.2 L30.9,3.7 M10.5,6.4 L36.4,7.4 M10.5,9.6 L41.8,11.0 M10.5,12.6 L46.9,14.5 " stroke="#000" stroke-width="1.2" fill="none"/>
<!-- facets -->
<path class="t" d="M29,-1 L87,-12.5 L87,12 Z M87,-12.5 L96.7,-23" style="stroke-width:1"/>
<path class="t" d="M29,-1 C34,-8 38,-13 44,-17.8 M29,-1 C31,5 33,10 36,14.6" style="stroke-width:0.9"/>
<!-- converging flute lines -->
<path class="t" d="M44,-17.8 C58,-17.5 72,-15.5 87,-12.5 M52,-18.6 C66,-18 78,-16 87,-12.5 M60,-19.6 C72,-19.5 82,-18.5 92,-17.5" style="stroke-width:0.9"/>
<path class="t" d="M36,14.6 C52,15.5 70,14.5 87,12 M42,15.8 C58,18 74,16 87,12 M50,17 C62,20 76,21 90,19.5" style="stroke-width:0.9"/>
<!-- flutes at end -->
<path class="t" d="M87,-12.5 C105,-13.5 125,-13.5 136,-11.5 C144,-10 149,-4.5 149,1.5 C149,7 145,11 138,12.6 C125,14.8 105,14 87,12" style="stroke-width:1.1"/>
<path class="t" d="M96.7,-23 C99,-19.5 103,-17.8 110,-17.6 C122,-17.6 135,-17.2 142,-14.5 C146,-13 149,-10 151,-6" style="stroke-width:0.9"/>
<path class="t" d="M87,12 C88,16 90,19 94,20.3 C108,22.3 125,21.3 137,17.8 C142,16.3 146,14 148.5,10.5" style="stroke-width:0.9"/>
<!-- collar -->
<path d="M-14.6,-11 C-12,-16 -8,-20 -3.7,-21.6 L3.4,-22.5 C6.5,-21.5 8.5,-20 9.2,-18 L10.7,-13.6 L10.6,12.8 L10.4,16.2 C9,19 7,21 4.8,21.6 C1,22 -2.5,21.5 -5.1,19.7 C-9,17 -11.5,14 -12.5,10.8 C-15.5,4 -16,-4 -14.6,-11 Z" fill="#fff" stroke="#000" stroke-width="1.6" stroke-linejoin="round"/>
<path class="n" d="M-8.9,-15.4 C-7,-14 -5.5,-12 -4.8,-10.1 M-8.9,-15.4 C-11,-8 -11.5,2 -9.5,10 C-8,15 -4,19 3,20.4 M-8.9,-15.4 C-6,-18 -2,-19.5 3.5,-19.8" style="stroke-width:1.2"/>
<path class="n" d="M5.6,0.3 C1,-2 -3,-6 -4.8,-10.1 M5.6,0.3 C1,2.5 -3,6 -5.7,9.1 M5.6,0.3 C7.5,-4 8.2,-8 8.2,-12.1 M5.6,0.3 C7.5,5 8.5,10 8.6,15 M-4.8,-10.1 C-1,-9.5 5,-10 8.2,-12.1 M-5.7,9.1 C-3,13 0,17 3,20.4" style="stroke-width:1.1"/>
<path d="M-13.2,-9.5 L-10.2,-8.6 M-13.9,-6 L-10.8,-5.4 M-14.2,-2.5 L-11,-2.2 M-14.2,1 L-11,1 M-13.9,4.5 L-10.7,4.2 M-13.2,8 L-10.2,7.4 M-11.8,11.5 L-9,10.6 M-10,14.8 L-7.5,13.5 M-7.5,17.6 L-5.5,16 M-11.5,-13 L-8.8,-11.6 M-6,-18.5 L-4.5,-16.6 M-2.5,-20.2 L-1.6,-18 M1,-21 L1.4,-18.6" stroke="#000" stroke-width="1"/>
<path d="M-15.8,-6 L-15.2,4.8" stroke="#000" stroke-width="2.6"/>
</g>

<g class="l">
<path d="M178.7,42 L196,52"/>
<path d="M337,31 L367.5,48"/>
<path d="M322,72.5 L367.5,97.5"/>
<path d="M325,127.5 L367.5,151"/>
<path d="M210,122.5 L244,140"/>
<path d="M210,175 L267.5,207.5"/>
<path d="M210,194 L260,222.5"/>
<path d="M210,218 L252.5,241"/>
<path d="M321,202.5 L332.5,209"/>
<path d="M299,230 L279,242.5"/>
<path d="M320,241 L304,250"/>
<path d="M353,247 L341,253"/>
<path d="M211,254.6 L244.6,274"/>
<path d="M182.6,279.5 L205,293"/>
<path d="M284,267.5 L351,295"/>
<path d="M399,191 L399,217.5"/>
<path d="M419.5,179 L419.5,206"/>
<path d="M442.5,165.5 L442.5,194.5"/>
<path d="M464,154 L464,183"/>
<path d="M557,184 L596,205.5"/>
<path d="M529,211 L557.5,226"/>
<path d="M402.5,358 L357.5,384"/>
<path d="M436,377.5 L415,389"/>
<path d="M469,397 L449,409.5"/>
<path d="M510,419.5 L492.5,430"/>
<path d="M335,412.5 L326,407"/>
<path d="M387.5,427.5 L398,419.5"/>
<path d="M411,441 L427.5,433"/>
<path d="M441,460 L457.5,452.5"/>
<path d="M625.6,361 L609,370.5"/>
<path d="M79,386 L106,401"/>
<path d="M46,405 L92.5,431"/>
<path d="M199,415 L224,402"/>
<path d="M200,465 L237.5,444"/>
<path d="M200,536 L241,512.5"/>
<path d="M200,607.5 L239,585"/>
<path d="M317.5,601 L289,617"/>
<path d="M355,504 L370,495"/>
<path d="M482.5,485 L466,495"/>
<path d="M430,585 L447.5,575"/>
<path d="M532.5,544 L514,552.5"/>
</g>

<g class="lb" opacity="0.999">
<text transform="translate(158.3,40.1) scale(1.03,1)">38</text>
<text transform="translate(370.3,51.6) scale(1.03,1)">11</text>
<text transform="translate(370.8,102.1) scale(1.03,1)">10</text>
<text transform="translate(370.3,156.6) scale(1.03,1)">9</text>
<text transform="translate(199.3,120.1) scale(1.03,1)">8</text>
<text transform="translate(199.3,173.6) scale(1.03,1)">5</text>
<text transform="translate(199.3,192.6) scale(1.03,1)">2</text>
<text transform="translate(198.8,217.1) scale(1.03,1)">1</text>
<text transform="translate(333.8,214.6) scale(1.03,1)">4</text>
<text transform="translate(299.3,228.6) scale(1.03,1)">3</text>
<text transform="translate(320.3,240.1) scale(1.03,1)">7</text>
<text transform="translate(354.3,250.1) scale(1.03,1)">6</text>
<text transform="translate(190.8,252.1) scale(1.03,1)">18</text>
<text transform="translate(161.8,279.6) scale(1.03,1)">23</text>
<text transform="translate(353.3,301.6) scale(1.03,1)">32</text>
<text transform="translate(389.8,189.1) scale(1.03,1)">34</text>
<text transform="translate(410.3,177.1) scale(1.03,1)">35</text>
<text transform="translate(433.8,163.6) scale(1.03,1)">36</text>
<text transform="translate(455.3,152.1) scale(1.03,1)">37</text>
<text transform="translate(598.3,212.6) scale(1.03,1)">20</text>
<text transform="translate(558.3,232.6) scale(1.03,1)">19</text>
<text transform="translate(404.8,357.1) scale(1.03,1)">26</text>
<text transform="translate(436.8,377.1) scale(1.03,1)">29</text>
<text transform="translate(469.3,396.6) scale(1.03,1)">28</text>
<text transform="translate(510.3,418.1) scale(1.03,1)">33</text>
<text transform="translate(337.3,420.1) scale(1.03,1)">31</text>
<text transform="translate(366.3,436.6) scale(1.03,1)">29</text>
<text transform="translate(390.3,450.6) scale(1.03,1)">27</text>
<text transform="translate(421.8,469.6) scale(1.03,1)">33</text>
<text transform="translate(627.9,359.6) scale(1.03,1)">39</text>
<text transform="translate(58.8,384.6) scale(1.03,1)">24</text>
<text transform="translate(26.8,403.6) scale(1.03,1)">25</text>
<text transform="translate(179.8,421.1) scale(1.03,1)">30</text>
<text transform="translate(177.3,470.6) scale(1.03,1)">12</text>
<text transform="translate(178.3,541.6) scale(1.03,1)">13</text>
<text transform="translate(178.3,613.6) scale(1.03,1)">14</text>
<text transform="translate(317.3,600.6) scale(1.03,1)">15</text>
<text transform="translate(336.3,509.6) scale(1.03,1)">21</text>
<text transform="translate(482.8,485.6) scale(1.03,1)">16</text>
<text transform="translate(409.3,592.6) scale(1.03,1)">22</text>
<text transform="translate(532.3,541.6) scale(1.03,1)">17</text>
</g>
<g transform="translate(796.6,627.5) rotate(-90) scale(0.005029,-0.005029)" fill="#000"><path transform="translate(0,0)" d="M156 0V153H515V1237L197 1010V1180L530 1409H696V153H1039V0Z"/><path transform="translate(1139,0)" d="M881 319V0H711V319H47V459L692 1409H881V461H1079V319ZM711 1206Q709 1200 683.0 1153.0Q657 1106 644 1087L283 555L229 481L213 461H711Z"/><path transform="translate(2278,0)" d="M1049 461Q1049 238 928.0 109.0Q807 -20 594 -20Q356 -20 230.0 157.0Q104 334 104 672Q104 1038 235.0 1234.0Q366 1430 608 1430Q927 1430 1010 1143L838 1112Q785 1284 606 1284Q452 1284 367.5 1140.5Q283 997 283 725Q332 816 421.0 863.5Q510 911 625 911Q820 911 934.5 789.0Q1049 667 1049 461ZM866 453Q866 606 791.0 689.0Q716 772 582 772Q456 772 378.5 698.5Q301 625 301 496Q301 333 381.5 229.0Q462 125 588 125Q718 125 792.0 212.5Q866 300 866 453Z"/><path transform="translate(3417,0)" d="M168 0V1409H1237V1253H359V801H1177V647H359V156H1278V0Z"/><path transform="translate(4783,0)" d="M720 1253V0H530V1253H46V1409H1204V1253Z"/><path transform="translate(6034,0)" d="M1059 705Q1059 352 934.5 166.0Q810 -20 567 -20Q324 -20 202.0 165.0Q80 350 80 705Q80 1068 198.5 1249.0Q317 1430 573 1430Q822 1430 940.5 1247.0Q1059 1064 1059 705ZM876 705Q876 1010 805.5 1147.0Q735 1284 573 1284Q407 1284 334.5 1149.0Q262 1014 262 705Q262 405 335.5 266.0Q409 127 569 127Q728 127 802.0 269.0Q876 411 876 705Z"/><path transform="translate(7173,0)" d="M156 0V153H515V1237L197 1010V1180L530 1409H696V153H1039V0Z"/><path transform="translate(8312,0)" d="M156 0V153H515V1237L197 1010V1180L530 1409H696V153H1039V0Z"/><path transform="translate(10020,0)" d="M1272 389Q1272 194 1119.5 87.0Q967 -20 690 -20Q175 -20 93 338L278 375Q310 248 414.0 188.5Q518 129 697 129Q882 129 982.5 192.5Q1083 256 1083 379Q1083 448 1051.5 491.0Q1020 534 963.0 562.0Q906 590 827.0 609.0Q748 628 652 650Q485 687 398.5 724.0Q312 761 262.0 806.5Q212 852 185.5 913.0Q159 974 159 1053Q159 1234 297.5 1332.0Q436 1430 694 1430Q934 1430 1061.0 1356.5Q1188 1283 1239 1106L1051 1073Q1020 1185 933.0 1235.5Q846 1286 692 1286Q523 1286 434.0 1230.0Q345 1174 345 1063Q345 998 379.5 955.5Q414 913 479.0 883.5Q544 854 738 811Q803 796 867.5 780.5Q932 765 991.0 743.5Q1050 722 1101.5 693.0Q1153 664 1191.0 622.0Q1229 580 1250.5 523.0Q1272 466 1272 389Z"/><path transform="translate(11386,0)" d="M792 1274Q558 1274 428.0 1123.5Q298 973 298 711Q298 452 433.5 294.5Q569 137 800 137Q1096 137 1245 430L1401 352Q1314 170 1156.5 75.0Q999 -20 791 -20Q578 -20 422.5 68.5Q267 157 185.5 321.5Q104 486 104 711Q104 1048 286.0 1239.0Q468 1430 790 1430Q1015 1430 1166.0 1342.0Q1317 1254 1388 1081L1207 1021Q1158 1144 1049.5 1209.0Q941 1274 792 1274Z"/></g>

<text transform="translate(285.3,466.6) rotate(-47.6)" x="0" y="0" style='font-family:"Liberation Sans",sans-serif;font-size:62px;fill:#c8c8c8;' opacity="0.95">HobbyStore.it</text>

</svg>
</body></html>
